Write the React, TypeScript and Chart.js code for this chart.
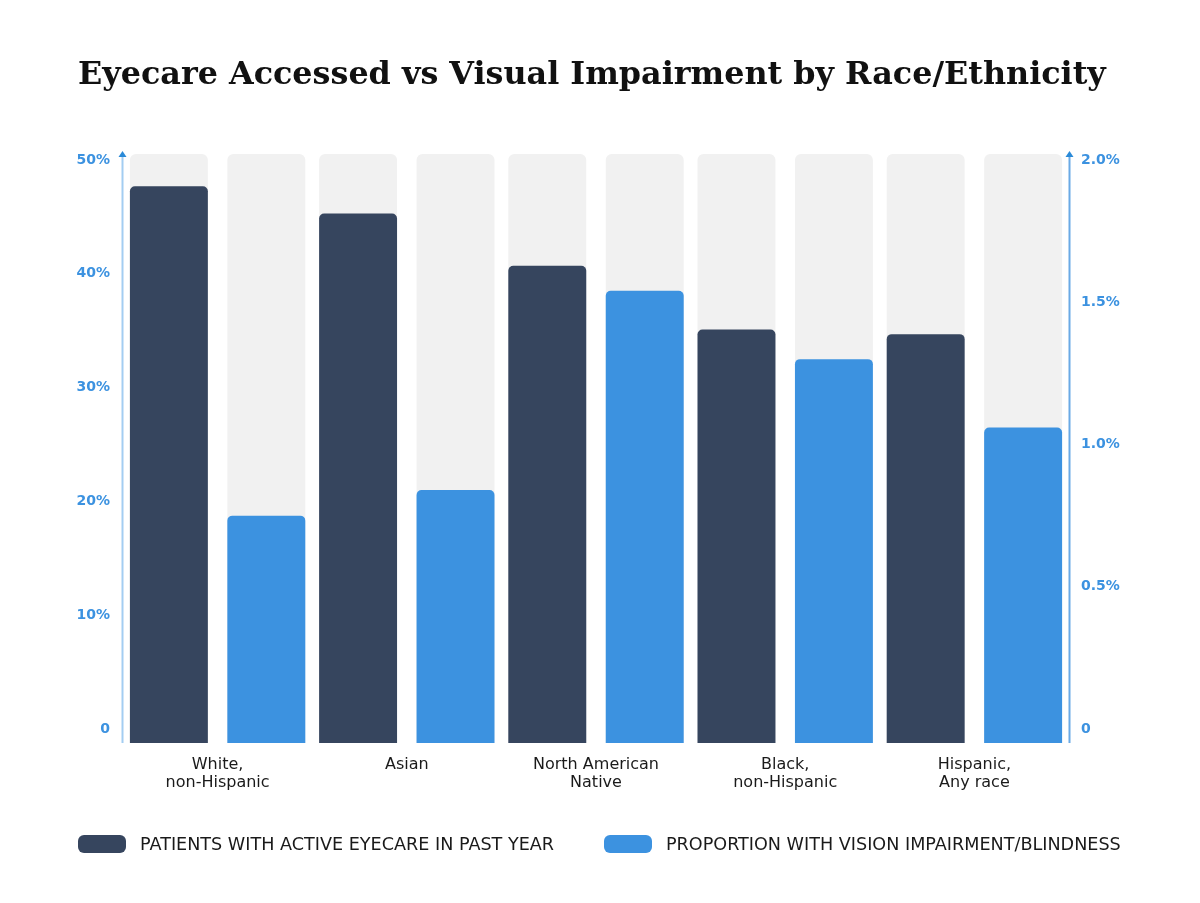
import React, { useEffect, useRef } from 'react';
import { Chart, registerables } from 'chart.js';

Chart.register(...registerables);

const TITLE = 'Eyecare Accessed vs Visual Impairment by Race/Ethnicity';
const categories: string[][] = [
  ['White,', 'non-Hispanic'],
  ['Asian'],
  ['North American', 'Native'],
  ['Black,', 'non-Hispanic'],
  ['Hispanic,', 'Any race'],
];
const seriesNames = [
  'PATIENTS WITH ACTIVE EYECARE IN PAST YEAR',
  'PROPORTION WITH VISION IMPAIRMENT/BLINDNESS',
];
// % of patients with active eyecare in past year (left axis)
const eyecareValues = [47.7, 45.3, 40.7, 35.1, 34.7];
// % with vision impairment / blindness (right axis)
const impairmentValues = [0.75, 0.84, 1.54, 1.3, 1.06];
const leftTicks = [0, 10, 20, 30, 40, 50];
const rightTicks = [0, 0.5, 1.0, 1.5, 2.0];

// axis ranges (track extends a little above top tick and below zero)
const LEFT_MIN = -1.23;
const LEFT_MAX = 50.53;
const RIGHT_MIN = -0.0492;
const RIGHT_MAX = 2.0211;

const DARK = '#36455e';
const BLUE = '#3c92e0';
const TRACK = '#f1f1f1';
const TICK_BLUE = '#3c92e0';
const TEXT = '#1a1a1a';

const overlayPlugin = {
  id: 'overlay',
  afterDraw(chart: any) {
    const ctx = chart.ctx as CanvasRenderingContext2D;
    const area = chart.chartArea;
    ctx.save();
    // title
    ctx.fillStyle = '#111111';
    ctx.font = 'bold 31.8px "DejaVu Serif"';
    ctx.textBaseline = 'alphabetic';
    ctx.textAlign = 'left';
    ctx.fillText(TITLE, 78, 84);

    // axis lines with arrows
    const drawAxis = (x: number, lineColor: string) => {
      ctx.strokeStyle = lineColor;
      ctx.lineWidth = 2;
      ctx.beginPath();
      ctx.moveTo(x, area.bottom);
      ctx.lineTo(x, area.top + 2);
      ctx.stroke();
      ctx.fillStyle = '#2a8ad8';
      ctx.beginPath();
      ctx.moveTo(x, area.top - 3);
      ctx.lineTo(x - 4, area.top + 3);
      ctx.lineTo(x + 4, area.top + 3);
      ctx.closePath();
      ctx.fill();
    };
    drawAxis(area.left - 0.5, '#a3cdf2');
    drawAxis(area.right + 0.5, '#6aaae6');

    // legend
    const items = [
      { color: DARK, label: seriesNames[0], x: 78 },
      { color: BLUE, label: seriesNames[1], x: 604 },
    ];
    ctx.font = '17.6px "DejaVu Sans"';
    ctx.textBaseline = 'middle';
    for (const it of items) {
      ctx.fillStyle = it.color;
      ctx.beginPath();
      (ctx as any).roundRect(it.x, 835, 48, 18, 6);
      ctx.fill();
      ctx.fillStyle = TEXT;
      ctx.fillText(it.label, it.x + 62, 845);
    }
    ctx.restore();
  },
};

export default function App() {
  const ref = useRef<HTMLCanvasElement>(null);
  useEffect(() => {
    document.body.style.margin = '0';
    const canvas = ref.current!;
    const tickFont = { family: '"DejaVu Sans"', size: 14, weight: 'bold' as const };
    const common = {
      borderSkipped: 'start',
      categoryPercentage: 1.03,
      barPercentage: 0.8,
    };
    const chart = new Chart(canvas, {
      type: 'bar',
      data: {
        labels: categories,
        datasets: [
          {
            ...common,
            label: seriesNames[0],
            data: eyecareValues,
            backgroundColor: DARK,
            yAxisID: 'y',
            stack: 'a',
            base: LEFT_MIN,
            borderRadius: 5,
            order: 1,
          },
          {
            ...common,
            label: seriesNames[1],
            data: impairmentValues,
            backgroundColor: BLUE,
            yAxisID: 'y1',
            stack: 'b',
            base: RIGHT_MIN,
            borderRadius: 5,
            order: 1,
          },
          {
            ...common,
            label: 'track1',
            data: categories.map(() => LEFT_MAX),
            backgroundColor: TRACK,
            yAxisID: 'y',
            stack: 'a',
            base: LEFT_MIN,
            borderRadius: 6,
            order: 2,
          },
          {
            ...common,
            label: 'track2',
            data: categories.map(() => RIGHT_MAX),
            backgroundColor: TRACK,
            yAxisID: 'y1',
            stack: 'b',
            base: RIGHT_MIN,
            borderRadius: 6,
            order: 2,
          },
        ] as any,
      },
      options: {
        responsive: false,
        animation: false,
        layout: { padding: { top: 154, bottom: 0, left: 0, right: 0 } },
        plugins: {
          legend: { display: false },
          title: { display: false },
          tooltip: { enabled: false },
        },
        scales: {
          x: {
            type: 'category',
            offset: true,
            stacked: true,
            grid: { display: false, drawTicks: false },
            border: { display: false },
            ticks: {
              color: TEXT,
              font: { family: '"DejaVu Sans"', size: 16, lineHeight: 1.1 },
              padding: 13,
              maxRotation: 0,
              autoSkip: false,
            },
            afterFit: (s: any) => {
              s.height = 160;
            },
          },
          y: {
            position: 'left',
            stacked: false,
            min: LEFT_MIN,
            max: LEFT_MAX,
            grid: { display: false, drawTicks: false },
            border: { display: false },
            afterBuildTicks: (a: any) => {
              a.ticks = leftTicks.map((v) => ({ value: v }));
            },
            ticks: {
              color: TICK_BLUE,
              font: tickFont,
              padding: 13,
              callback: (v: any) => (v === 0 ? '0' : `${v}%`),
            },
            afterFit: (s: any) => {
              s.width = 123;
            },
          },
          y1: {
            position: 'right',
            stacked: false,
            min: RIGHT_MIN,
            max: RIGHT_MAX,
            grid: { display: false, drawTicks: false },
            border: { display: false },
            afterBuildTicks: (a: any) => {
              a.ticks = rightTicks.map((v) => ({ value: v }));
            },
            ticks: {
              color: TICK_BLUE,
              font: tickFont,
              padding: 12,
              callback: (v: any) => (v === 0 ? '0' : `${Number(v).toFixed(1)}%`),
            },
            afterFit: (s: any) => {
              s.width = 131;
            },
          },
        },
      } as any,
      plugins: [overlayPlugin],
    });
    return () => chart.destroy();
  }, []);
  return (
    <div style={{ width: 1200, height: 903 }}>
      <canvas ref={ref} width={1200} height={903} style={{ display: 'block' }} />
    </div>
  );
}
